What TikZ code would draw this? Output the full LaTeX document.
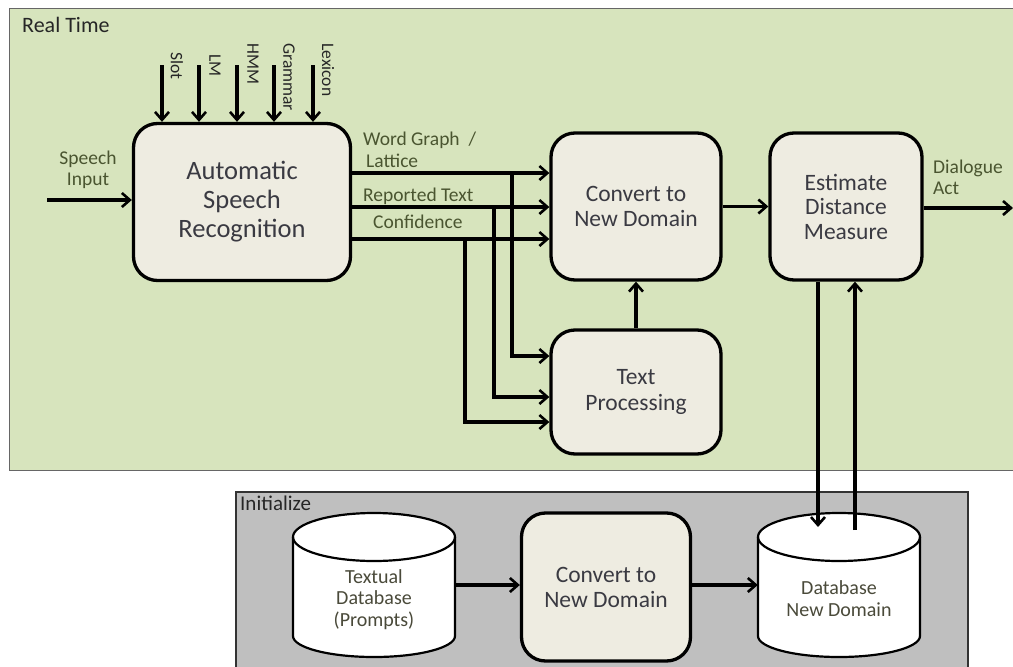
\documentclass[tikz,border=0pt]{standalone}
\usepackage{fontspec}
\setmainfont{Carlito}
\usetikzlibrary{arrows.meta}
\definecolor{rtgreen}{HTML}{D7E4BD}
\definecolor{initgray}{HTML}{BFBFBF}
\definecolor{boxfill}{HTML}{EEECE1}
\definecolor{lblc}{HTML}{4A5530}
\definecolor{txtc}{HTML}{3A3A42}
\definecolor{dbc}{HTML}{4A4A3A}
\begin{document}
\begin{tikzpicture}[x=1pt,y=-1pt,
  proc/.style={draw=black, line width=3.3pt, fill=boxfill, rounded corners=24pt, align=center, text=txtc, inner sep=0pt},
  arr/.style={line width=3.2pt, -{Straight Barb[length=8pt,width=14pt,line width=2.6pt]}},
  lbl/.style={text=lblc, font=\fontsize{19.5}{21}\selectfont, inner sep=0pt},
  toplbl/.style={text=black!85, font=\fontsize{17.5}{20}\selectfont, inner sep=0pt, rotate=-90, anchor=west},
  dbtext/.style={text=dbc, font=\fontsize{20}{21.5}\selectfont, align=center, inner sep=0pt},
  cyl/.style={line width=2.2pt, draw=black, fill=white}]
\useasboundingbox (0,0) rectangle (1013,667);
\clip (0,0) rectangle (1013,667);
% regions
\draw[draw=black!60, line width=1pt, fill=rtgreen] (9,8) rectangle (1030,470);
\node[anchor=west, inner sep=0pt, font=\fontsize{22}{24}\selectfont, text=black!85] (rt) at (22,25) {Real Time};
\draw[draw=black!80, line width=2pt, fill=initgray] (236,492) rectangle (968,680);
\node[anchor=west, inner sep=0pt, font=\fontsize{21}{24}\selectfont, text=black!85] (ini) at (240,503) {Initialize};
% main nodes
\node[proc, minimum width=217pt, minimum height=157pt, font=\fontsize{26.5}{29}\selectfont] (asr) at (242,202) {Automatic\\Speech\\Recognition};
\node[proc, minimum width=170pt, minimum height=147pt, font=\fontsize{23.5}{25}\selectfont] (conv) at (636,206.5) {Convert to\\New Domain};
\node[proc, minimum width=152pt, minimum height=147pt, font=\fontsize{23.5}{24.5}\selectfont] (est) at (846,206.5) {Estimate\\Distance\\Measure};
\node[proc, minimum width=170pt, minimum height=124pt, font=\fontsize{23.5}{26}\selectfont] (tp) at (636,392) {Text\\Processing};
\node[proc, minimum width=169pt, minimum height=148pt, font=\fontsize{23.5}{25}\selectfont] (conv2) at (606,587) {Convert to\\New Domain};
% cylinders
\draw[cyl] (293,537) -- (293,636) arc[start angle=180,end angle=0,x radius=81,y radius=21] -- (455,537) arc[start angle=0,end angle=-180,x radius=81,y radius=24] -- cycle;
\draw[line width=2.2pt] (293,537) arc[start angle=180,end angle=0,x radius=81,y radius=24];
\node[dbtext, minimum width=162pt] (tdb) at (374,599.5) {Textual\\Database\\(Prompts)};
\draw[cyl] (758,537) -- (758,636) arc[start angle=180,end angle=0,x radius=81,y radius=21] -- (920,537) arc[start angle=0,end angle=-180,x radius=81,y radius=24] -- cycle;
\draw[line width=2.2pt] (758,537) arc[start angle=180,end angle=0,x radius=81,y radius=24];
\node[dbtext, minimum width=162pt] (dbn) at (839,598.5) {Database\\New Domain};
% speech input
\coordinate (sin) at (47,200);
\draw[arr] (sin) -- (asr.west |- sin);
\node[lbl, align=center] (sinl) at (88,170) {Speech\\Input};
% top inputs
\foreach \x/\lx/\ly/\t in {162/177/52/Slot, 199/215/54/LM, 237/253/43/HMM, 274/289/43/Grammar, 313/328/43/Lexicon}{
  \coordinate (k\t) at (\x,65);
  \draw[arr] (k\t) -- (asr.north -| k\t);
  \node[toplbl] (l\t) at (\lx,\ly) {\t};
}
% outputs of ASR
\coordinate (j1) at (512,173);
\coordinate (j2) at (494,207);
\coordinate (j3) at (465,239);
\coordinate (b1) at (0,356);
\coordinate (b2) at (0,397);
\coordinate (b3) at (0,422);
\draw[arr] (asr.east |- j1) -- (conv.west |- j1);
\draw[arr] (asr.east |- j2) -- (conv.west |- j2);
\draw[arr] (asr.east |- j3) -- (conv.west |- j3);
\draw[arr] (j1) -- (j1 |- b1) -- (tp.west |- b1);
\draw[arr] (j2) -- (j2 |- b2) -- (tp.west |- b2);
\draw[arr] (j3) -- (j3 |- b3) -- (tp.west |- b3);
\node[lbl, anchor=west] (wg) at (363,140) {Word Graph\ \ /};
\node[lbl, anchor=west] (lat) at (366,161) {Lattice};
\node[lbl, anchor=west] (rep) at (363,196) {Reported Text};
\node[lbl, anchor=west] (cnf) at (373,222) {Confidence};
% other connectors
\draw[arr] (tp.north) -- (conv.south);
\draw[arr] (conv.east) -- (est.west);
\coordinate (out) at (1013,208);
\draw[arr] (est.east |- out) -- (out);
\node[lbl, align=left, anchor=west] (da) at (933,177.5) {Dialogue\\Act};
\coordinate (dbin) at (818,527);
\coordinate (dbout) at (855,530);
\draw[arr] (est.south -| dbin) -- (dbin);
\draw[arr] (dbout) -- (est.south -| dbout);
\coordinate (y585) at (0,585);
\draw[arr] (tdb.east |- y585) -- (conv2.west |- y585);
\draw[arr] (conv2.east |- y585) -- (dbn.west |- y585);
\end{tikzpicture}
\end{document}
